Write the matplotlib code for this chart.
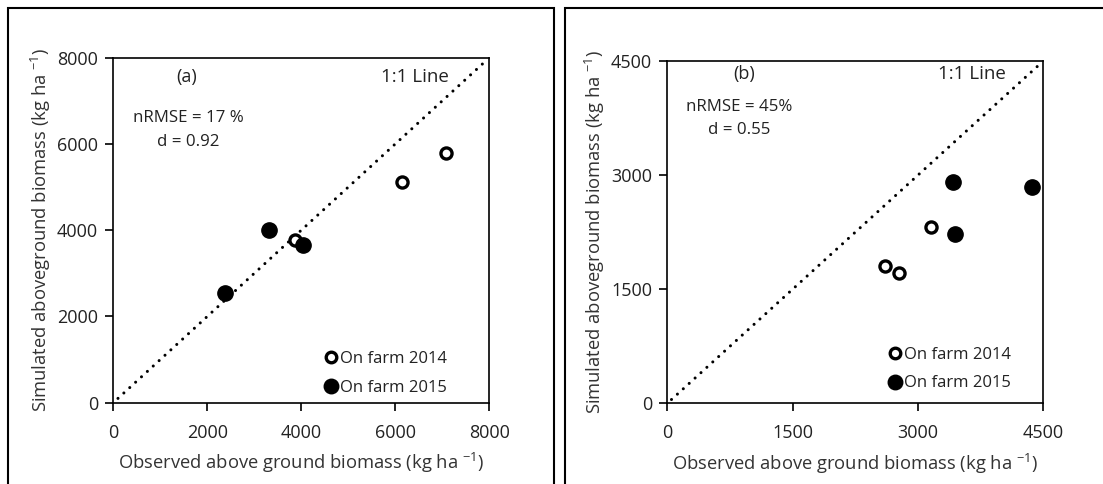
import matplotlib
matplotlib.use("Agg")
import matplotlib.pyplot as plt
from matplotlib.patches import Rectangle

plt.rcParams['font.family'] = ['Open Sans', 'DejaVu Sans']
plt.rcParams['mathtext.default'] = 'regular'

# Panel (a) - observed vs simulated aboveground biomass
obs_a_2014 = [3870, 6150, 7070]
sim_a_2014 = [3770, 5110, 5800]
obs_a_2015 = [2380, 3320, 4040]
sim_a_2015 = [2535, 4005, 3650]

# Panel (b)
obs_b_2014 = [2600, 2770, 3150]
sim_b_2014 = [1805, 1710, 2315]
obs_b_2015 = [3420, 3440, 4370]
sim_b_2015 = [2915, 2220, 2840]

one_to_one_a = [100, 7900]
one_to_one_b = [50, 4460]

ticks_a = [0, 2000, 4000, 6000, 8000]
ticks_b = [0, 1500, 3000, 4500]

stats_a = ["nRMSE = 17 %", "d = 0.92"]
stats_b = ["nRMSE = 45%", "d = 0.55"]

xlab = "Observed above ground biomass (kg ha $^{-1}$)"
ylab = "Simulated aboveground biomass (kg ha $^{-1}$)"

fig = plt.figure(figsize=(11.03, 4.84), dpi=100)

# outer boxes around each panel
fig.patches.append(Rectangle((8 / 1103, -0.1), (554 - 8) / 1103, 1.1 - 8 / 484,
                             transform=fig.transFigure, fill=False, lw=1.5,
                             edgecolor='black', clip_on=False))
fig.patches.append(Rectangle((565 / 1103, -0.1), 0.6, 1.1 - 8 / 484,
                             transform=fig.transFigure, fill=False, lw=1.5,
                             edgecolor='black', clip_on=False))

ax1 = fig.add_axes([0.1027, 0.168, 0.3409, 0.7128])
ax2 = fig.add_axes([0.605, 0.1667, 0.3409, 0.7073])


def draw_panel(ax, o14, s14, o15, s15, line, ticks, label, stats, pos):
    ax.plot(line, line, color='black', lw=2.2, linestyle=(0, (0.01, 2.6)),
            dash_capstyle='round')
    ax.plot(o14, s14, 'o', ms=8, mfc='white', mec='black', mew=2.4,
            label='On farm 2014', zorder=3)
    ax.plot(o15, s15, 'o', ms=11, mfc='black', mec='black',
            label='On farm 2015', zorder=3)
    lim = ticks[-1]
    ax.set_xlim(0, lim)
    ax.set_ylim(0, lim)
    ax.set_xticks(ticks)
    ax.set_yticks(ticks)
    ax.tick_params(direction='out', length=6, width=1.2, labelsize=13,
                   pad=5, labelcolor='#222222')
    ax.tick_params(axis='x', pad=9)
    for s in ax.spines.values():
        s.set_linewidth(1.2)
    ax.set_xlabel(xlab, fontsize=13.2, labelpad=7, color='#333333')
    ax.set_ylabel(ylab, fontsize=13.2, labelpad=3, color='#333333')
    ax.text(pos[0], pos[1], label, transform=ax.transAxes, ha='center',
            va='center', fontsize=13, color='#222222')
    ax.text(pos[2], pos[1], "1:1 Line", transform=ax.transAxes,
            ha='center', va='center', fontsize=13.5, color='#222222')
    ax.text(pos[3], pos[4], stats[0], transform=ax.transAxes, ha='center',
            va='center', fontsize=12.2, color='#222222')
    ax.text(pos[3], pos[5], stats[1], transform=ax.transAxes, ha='center',
            va='center', fontsize=12.2, color='#222222')
    leg = ax.legend(loc='lower left', bbox_to_anchor=(pos[6], pos[7]),
                    frameon=False, fontsize=12, handlelength=0.6,
                    handletextpad=0.25, labelspacing=0.75, borderaxespad=0.0,
                    borderpad=0.0, markerscale=0.95)
    for t in leg.get_texts():
        t.set_color('#222222')


draw_panel(ax1, obs_a_2014, sim_a_2014, obs_a_2015, sim_a_2015, one_to_one_a,
           ticks_a, "(a)", stats_a,
           (0.196, 0.944, 0.802, 0.2, 0.825, 0.755, 0.565, 0.02))
draw_panel(ax2, obs_b_2014, sim_b_2014, obs_b_2015, sim_b_2015, one_to_one_b,
           ticks_b, "(b)", stats_b,
           (0.204, 0.962, 0.810, 0.19, 0.866, 0.798, 0.592, 0.035))

fig.savefig("out.png", dpi=100)
